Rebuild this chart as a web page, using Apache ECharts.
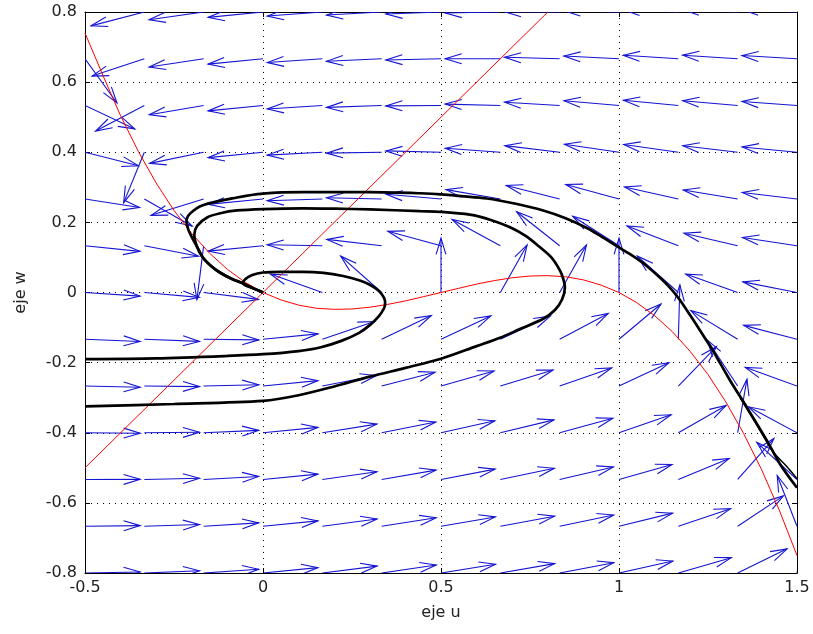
<!DOCTYPE html>
<html><head><meta charset="utf-8">
<script src="https://cdn.jsdelivr.net/npm/echarts@6/dist/echarts.min.js"></script>
<style>html,body{margin:0;padding:0;background:#fff}#c{width:813px;height:634px}</style>
</head><body><div id="c"></div>
<script>
// quiver grid (columns u, rows w) and arrow directions in degrees (null = no arrow)
const uCols = [-0.5, -0.3333, -0.1667, 0, 0.1667, 0.3333, 0.5, 0.6667, 0.8333, 1, 1.1667, 1.3333, 1.5];
const wRows = [0.8, 0.6667, 0.5333, 0.4, 0.2667, 0.1333, 0, -0.1333, -0.2667, -0.4, -0.5333, -0.6667, -0.8];
const arrowAngles = [
  [249, 194.8, 188.2, 185.7, 184.3, 183.2, 182.1, 181.0, 179.7, 178.6, 177.7, 177.4, 177.4],
  [305.4, 198.6, 188.8, 185.7, 184.0, 182.7, 181.4, 180.0, 178.5, 177.1, 176.4, 176.3, 176.6],
  [334.5, 208.0, 189.8, 185.7, 183.6, 182.0, 180.4, 178.5, 176.5, 175.0, 174.5, 174.9, 175.7],
  [345.6, 248.0, 191.8, 185.7, 183.0, 180.9, 178.6, 175.8, 173.0, 171.5, 171.8, 173.1, 174.5],
  [351.0, 330.0, 197.5, 185.7, 181.8, 178.7, 175.0, 170.1, 165.6, 164.6, 167.2, 170.5, 173.1],
  [354.1, 348.9, 263.0, 185.7, 178.9, 173.3, 164.6, 151.0, 141.2, 147.0, 158.6, 166.6, 171.2],
  [356.2, 354.9, 352.7, null, 160.2, 138.0, 90.0, 61.0, 60.9, 90.0, 138.0, 160.2, 168.7],
  [357.6, 357.7, 359.3, 5.7, 19.0, 25.9, 25.4, 25.2, 28.3, 40.4, 88.4, 148.2, 165.2],
  [358.7, 359.4, 1.4, 5.7, 11.1, 14.6, 16.0, 17.1, 19.4, 25.4, 46.3, 123.0, 159.9],
  [359.5, 0.5, 2.5, 5.7, 9.1, 11.4, 12.7, 13.7, 15.4, 19.3, 30.1, 80.3, 151.5],
  [0.15, 1.3, 3.2, 5.7, 8.2, 9.9, 11.0, 11.9, 13.3, 16.0, 22.8, 48.9, 136.8],
  [0.7, 1.8, 3.6, 5.7, 7.6, 9.0, 9.9, 10.7, 11.9, 14.0, 18.9, 34.0, 111.0],
  [1.1, 2.3, 3.9, 5.7, 7.3, 8.4, 9.2, 9.9, 10.9, 12.7, 16.4, 26.4, 77.7]
];

// red nullclines
const cubicU = [-0.5,-0.45,-0.4,-0.35,-0.3,-0.25,-0.2,-0.15,-0.1,-0.05,0,0.05,0.1,0.15,0.2,0.25,0.3,0.35,0.4,0.45,0.5,0.55,0.6,0.65,0.7,0.75,0.8,0.85,0.9,0.95,1,1.05,1.1,1.15,1.2,1.25,1.3,1.35,1.4,1.45,1.5];
const cubicW = [0.74,0.62,0.504,0.402,0.312,0.234,0.168,0.112,0.066,0.029,0,-0.021,-0.036,-0.045,-0.048,-0.047,-0.042,-0.034,-0.024,-0.012,0,0.012,0.024,0.034,0.042,0.047,0.048,0.045,0.036,0.021,0,-0.029,-0.066,-0.112,-0.168,-0.234,-0.312,-0.402,-0.504,-0.62,-0.75];
const lineU = [-0.5, 0.8];
const lineW = [-0.5, 0.8];

// black trajectories
const trajA = [[-0.5,-0.19],[-0.3,-0.188],[-0.1,-0.181],[0,-0.176],[0.1,-0.167],[0.16,-0.157],[0.22,-0.138],[0.27,-0.115],[0.3,-0.093],[0.325,-0.068],[0.34,-0.045],[0.343,-0.03],[0.34,-0.015],[0.325,0.005],[0.3,0.022],[0.27,0.035],[0.225,0.047],[0.17,0.056],[0.112,0.059],[0.05,0.059],[0,0.057],[-0.03,0.05],[-0.05,0.038],[-0.056,0.026],[-0.025,0.011],[0,0]];
const trajB = [[-0.5,-0.325],[-0.25,-0.318],[0,-0.309],[0.1,-0.293],[0.2,-0.268],[0.3,-0.24],[0.4,-0.215],[0.5,-0.189],[0.6,-0.153],[0.666,-0.129],[0.72,-0.105],[0.787,-0.075],[0.82,-0.05],[0.84,-0.02],[0.848,0.014],[0.843,0.04],[0.834,0.063],[0.81,0.1],[0.778,0.129],[0.74,0.16],[0.694,0.186],[0.64,0.207],[0.581,0.222],[0.5,0.23],[0.441,0.232],[0.3,0.237],[0.2,0.239],[0.112,0.24],[0,0.238],[-0.073,0.234],[-0.12,0.226],[-0.157,0.214],[-0.185,0.19],[-0.193,0.165],[-0.185,0.13],[-0.169,0.1],[-0.145,0.075],[-0.121,0.057],[-0.09,0.04],[-0.056,0.026],[-0.025,0.011],[0,0]];
const trajC = [[1.5,-0.557],[1.452,-0.489],[1.416,-0.423],[1.36,-0.329],[1.312,-0.251],[1.264,-0.166],[1.23,-0.112],[1.2,-0.065],[1.17,-0.02],[1.143,0.014],[1.11,0.047],[1.07,0.082],[1.03,0.11],[0.994,0.132],[0.95,0.16],[0.91,0.184],[0.85,0.212],[0.787,0.234],[0.71,0.253],[0.629,0.268],[0.5,0.28],[0.441,0.283],[0.3,0.286],[0.112,0.286],[0,0.282],[-0.073,0.271],[-0.169,0.249],[-0.205,0.225],[-0.215,0.205],[-0.21,0.18],[-0.197,0.152],[-0.185,0.13],[-0.169,0.1],[-0.145,0.075],[-0.121,0.057],[-0.09,0.04],[-0.056,0.026],[-0.025,0.011],[0,0]];
const trajD = [[1.5,-0.531],[1.47,-0.495],[1.433,-0.455],[1.4,-0.4],[1.37,-0.35],[1.34,-0.3]];

const ARROW_LEN = 0.155;
const quiverData = [];
wRows.forEach((w, j) => uCols.forEach((u, i) => {
  const a = arrowAngles[j][i];
  if (a !== null) quiverData.push([u, w, a]);
}));
const zip = (xs, ys) => xs.map((x, k) => [x, ys[k]]);

const chart = echarts.init(document.getElementById('c'), null, {renderer: 'canvas'});
const FONT = 'DejaVu Sans, Liberation Sans, Arial, sans-serif';
const axisFont = {color: '#222', fontSize: 16, fontFamily: FONT};
const gridLine = {show: true, lineStyle: {color: '#000', width: 1, type: [1, 5]}};
const blk = {lineStyle: {color: '#000', width: 1}};
function trajSeries(d, w) {
  return {type: 'line', data: d, showSymbol: false, smooth: 0.3, xAxisIndex: 0, yAxisIndex: 0,
    lineStyle: {color: '#000', width: w}, z: 5, animation: false};
}
chart.setOption({
  backgroundColor: '#fff',
  animation: false,
  grid: {left: 85, right: 16, top: 12, bottom: 61, containLabel: false},
  xAxis: [
    {type: 'value', min: -0.5, max: 1.5, interval: 0.5, position: 'bottom',
     name: 'eje u', nameLocation: 'middle', nameGap: 32,
     nameTextStyle: {color: '#222', fontSize: 16, fontFamily: FONT},
     axisLine: {show: true, onZero: false, ...blk}, axisTick: {show: true, inside: true, length: 5, ...blk},
     axisLabel: {...axisFont, margin: 7}, splitLine: gridLine},
    {type: 'value', min: -0.5, max: 1.5, interval: 0.5, position: 'top',
     axisLine: {show: true, onZero: false, ...blk}, axisTick: {show: true, inside: true, length: 5, ...blk},
     axisLabel: {show: false}, splitLine: {show: false}}
  ],
  yAxis: [
    {type: 'value', min: -0.8, max: 0.8, interval: 0.2, position: 'left',
     name: 'eje w', nameLocation: 'middle', nameGap: 56, nameRotate: 90,
     nameTextStyle: {color: '#222', fontSize: 16, fontFamily: FONT},
     axisLine: {show: true, onZero: false, ...blk}, axisTick: {show: true, inside: true, length: 5, ...blk},
     axisLabel: {...axisFont, margin: 8}, splitLine: gridLine},
    {type: 'value', min: -0.8, max: 0.8, interval: 0.2, position: 'right',
     axisLine: {show: true, onZero: false, ...blk}, axisTick: {show: true, inside: true, length: 5, ...blk},
     axisLabel: {show: false}, splitLine: {show: false}}
  ],
  series: [
    {type: 'custom', data: quiverData, clip: true, z: 2, xAxisIndex: 0, yAxisIndex: 0,
     renderItem(params, api) {
       const u = api.value(0), w = api.value(1), a = api.value(2) * Math.PI / 180;
       const p0 = api.coord([u, w]);
       const p1 = api.coord([u + ARROW_LEN * Math.cos(a), w + ARROW_LEN * Math.sin(a)]);
       const dx = p1[0] - p0[0], dy = p1[1] - p0[1];
       const al = 0.3, be = 0.3;
       const b1 = [p1[0] - al * (dx + be * dy), p1[1] - al * (dy - be * dx)];
       const b2 = [p1[0] - al * (dx - be * dy), p1[1] - al * (dy + be * dx)];
       const st = {stroke: '#1414d2', lineWidth: 1.1, fill: null};
       return {type: 'group', children: [
         {type: 'polyline', shape: {points: [p0, p1]}, style: st},
         {type: 'polyline', shape: {points: [b1, p1, b2]}, style: st}
       ]};
     }},
    {type: 'line', data: zip(cubicU, cubicW), showSymbol: false, lineStyle: {color: '#ff0000', width: 1}, z: 3},
    {type: 'line', data: zip(lineU, lineW), showSymbol: false, lineStyle: {color: '#ff0000', width: 1}, z: 3},
    trajSeries(trajA, 2.7),
    trajSeries(trajB, 2.7),
    trajSeries(trajC, 2.7),
    trajSeries(trajD, 1.5)
  ]
});
</script></body></html>
